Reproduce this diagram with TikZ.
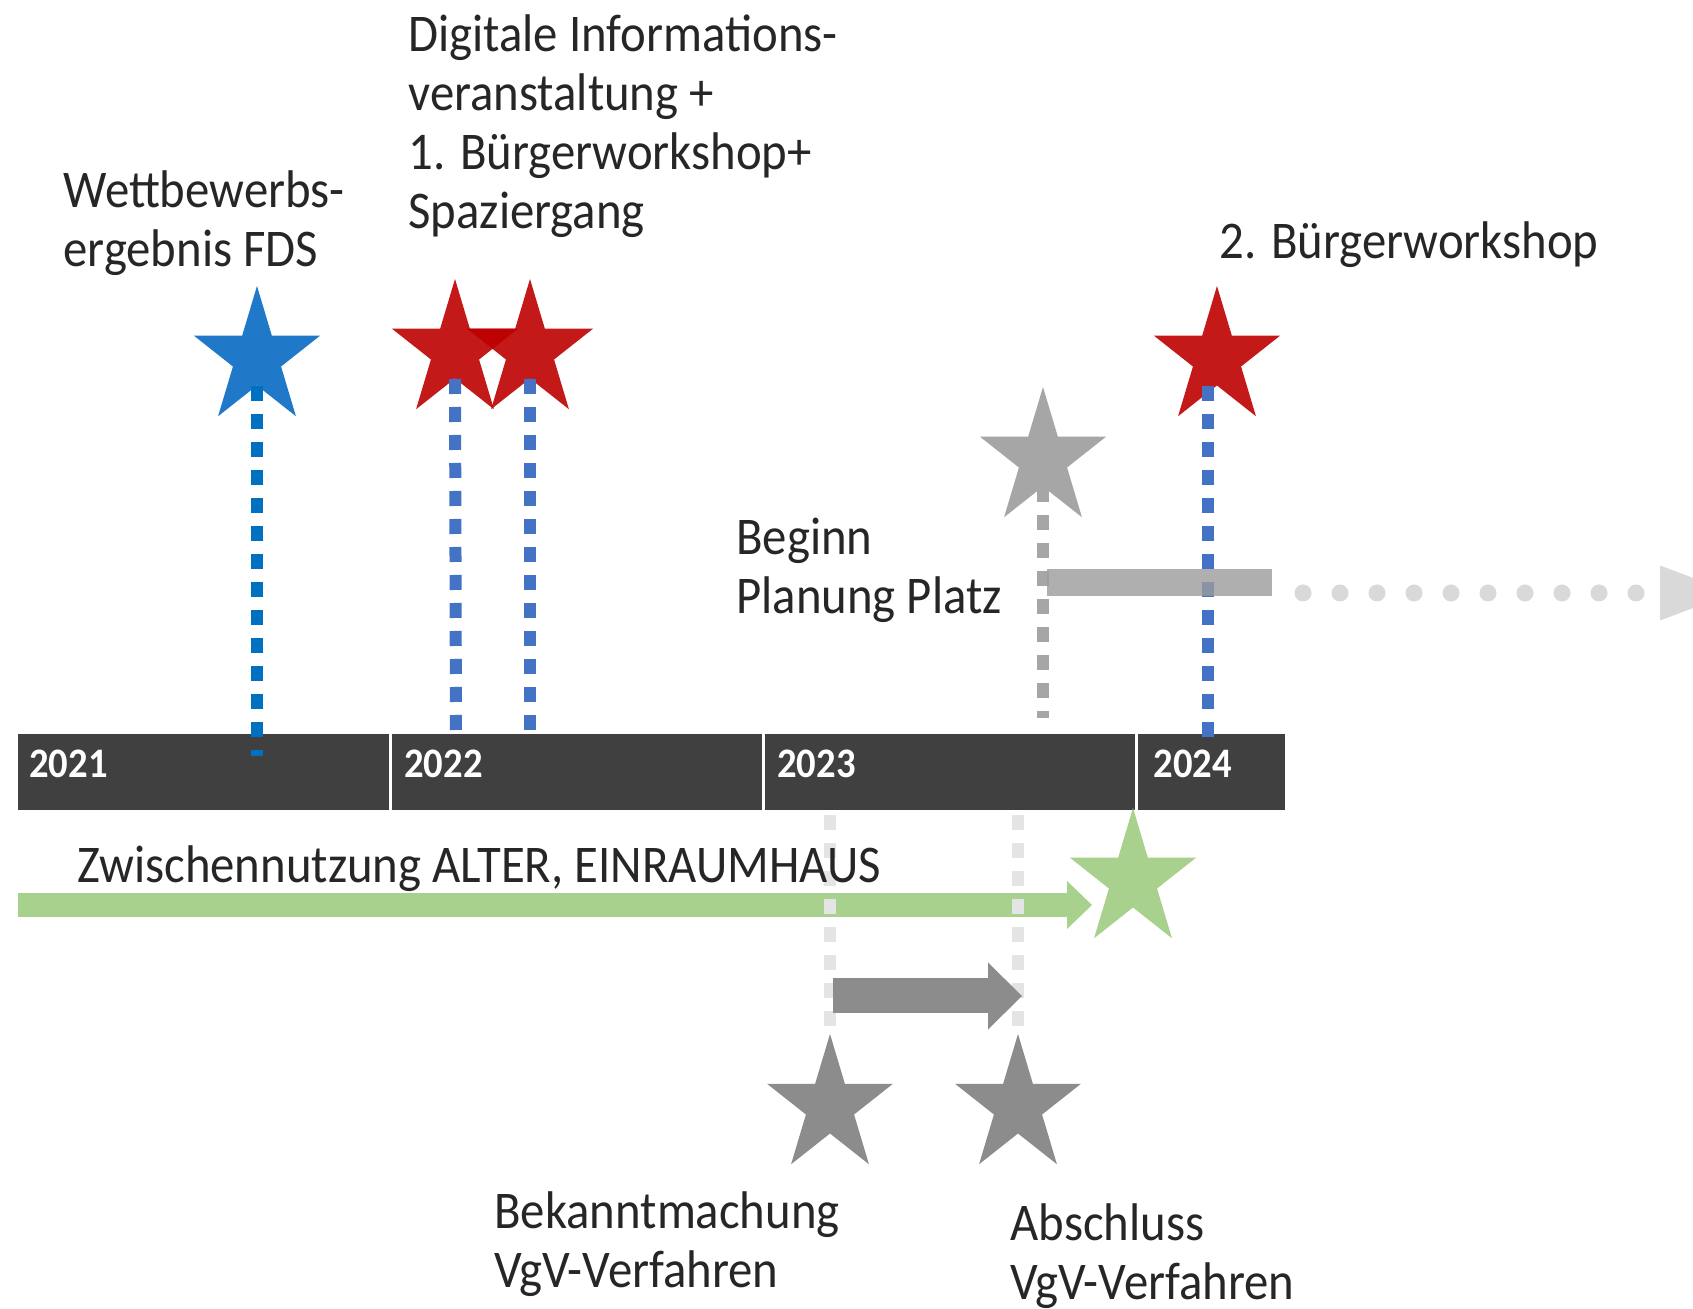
\documentclass[tikz,border=0pt]{standalone}
\usepackage{fontspec}
\setmainfont{Carlito}[FakeStretch = 0.92]
\usepackage{tikz}
\usetikzlibrary{arrows.meta}
\usetikzlibrary{shapes.geometric}
\definecolor{bardark}{RGB}{64,64,64}
\definecolor{fdsblue}{RGB}{31,120,200}
\definecolor{lineblue}{RGB}{0,112,192}
\definecolor{dotblue}{RGB}{68,114,196}
\definecolor{wsred}{RGB}{190,0,0}
\definecolor{vgvgrey}{RGB}{140,140,140}
\definecolor{plangrey}{RGB}{166,166,166}
\definecolor{planbar}{RGB}{156,156,156}
\definecolor{plandots}{RGB}{217,217,217}
\definecolor{faint}{RGB}{228,228,228}
\definecolor{usegreen}{RGB}{169,209,142}
\definecolor{txt}{RGB}{38,38,38}
\tikzset{ev/.style = {star, star points = 5, star point ratio = 2.618, minimum size = 72pt, inner sep = 0, xscale = 0.92}}
\tikzset{dotline/.style = {line width = 6pt, dash pattern = on 7.5pt off 6.5pt}}
\tikzset{lbl/.style = {anchor = base west, inner sep = 0, align = left, text = txt, font = \fontsize{26.5}{29.5}\selectfont}}
\tikzset{yr/.style = {anchor = base west, inner sep = 0, text = white, font = \fontsize{21}{24}\selectfont\bfseries}}

\begin{document}
\begin{tikzpicture}[x = 0.5pt, y = -0.5pt]
      \useasboundingbox (0, 0) rectangle (1693, 1309);
      \fill [white] (0, 0) rectangle (1693, 1309);

      \fill [bardark] (18, 734) rectangle (1285, 810);
      \draw [white, line width = 1.5pt] (390, 734) -- (390, 810);
      \draw [white, line width = 1.5pt] (763, 734) -- (763, 810);
      \draw [white, line width = 1.5pt] (1136, 734) -- (1136, 810);

      \node [yr] at (29, 778) (y2021) {2021};
      \node [yr] at (404, 778) (y2022) {2022};
      \node [yr] at (777, 778) (y2023) {2023};
      \node [yr] at (1153, 778) (y2024) {2024};

      \coordinate (m1) at (257, 756);
      \coordinate (m2) at (456, 736);
      \coordinate (m3) at (530, 736);
      \coordinate (m4) at (1208, 740);
      \coordinate (m5) at (1043, 718);
      \coordinate (b1) at (830, 815);
      \coordinate (b2) at (1018, 815);

      \coordinate (u0) at (18, 905);
      \coordinate (u1) at (1092, 905);
      \draw [usegreen, line width = 12pt, -{Triangle[width = 24pt, length = 12.5pt, line width = 0pt]}] (u0) -- (u1);

      \node [ev, fill = fdsblue] at (257, 358) (fds) {};
      \node [ev, fill = wsred, fill opacity = 0.9] at (455, 351) (ws1a) {};
      \node [ev, fill = wsred, fill opacity = 0.9] at (530, 351) (ws1b) {};
      \node [ev, fill = wsred, fill opacity = 0.9] at (1217, 358) (ws2) {};
      \node [ev, fill = plangrey] at (1043, 459) (plan) {};
      \node [ev, fill = usegreen] at (1133, 880) (use) {};
      \node [ev, fill = vgvgrey] at (830, 1106) (bek) {};
      \node [ev, fill = vgvgrey] at (1018, 1106) (abs) {};

      \draw [dotline, lineblue] (fds.south) -- (m1);
      \draw [dotline, dotblue] (ws1a.south) -- (m2);
      \draw [dotline, dotblue] (ws1b.south) -- (m3);
      \draw [dotline, dotblue] (m4 |- ws2.south) -- (m4);
      \draw [dotline, plangrey] (plan.south) -- (m5);
      \draw [dotline, faint] (b1) -- (bek.north);
      \draw [dotline, faint] (b2) -- (abs.north);

      \coordinate (va) at (833, 996);
      \coordinate (vb) at (1022, 996);
      \draw [vgvgrey, line width = 17.5pt, -{Triangle[width = 33.5pt, length = 17pt, line width = 0pt]}] (va) -- (vb);

      \coordinate (pa) at (1047, 583);
      \coordinate (pb) at (1272, 583);
      \coordinate (pc) at (1303, 593);
      \coordinate (pd) at (1733, 593);
      \draw [planbar, opacity = 0.8, line width = 13.5pt] (pa) -- (pb);
      \draw [plandots, line width = 8.5pt, line cap = round, dash pattern = on 0pt off 18.5pt, -{Triangle[width = 27.5pt, length = 36.5pt, line width = 0pt]}] (pc) -- (pd);

      \node [lbl] at (63, 267) (fdstext) {Wettbewerbs-\\ergebnis FDS};
      \node [lbl] at (408, 229) (wstext1) {Digitale Informations-\\veranstaltung +\\1. Bürgerworkshop+\\Spaziergang};
      \node [lbl] at (1219, 259) (wstext2) {2. Bürgerworkshop};
      \node [lbl] at (736, 614) (plantext) {Beginn\\Planung Platz};
      \node [lbl] at (77, 883) (usetext) {Zwischennutzung ALTER, EINRAUMHAUS};
      \node [lbl] at (494, 1287) (bektext) {Bekanntmachung\\VgV-Verfahren};
      \node [lbl] at (1010, 1299) (abstext) {Abschluss\\VgV-Verfahren};

      % stars sit on the bar through the dotted markers
    \end{tikzpicture}
\end{document}
